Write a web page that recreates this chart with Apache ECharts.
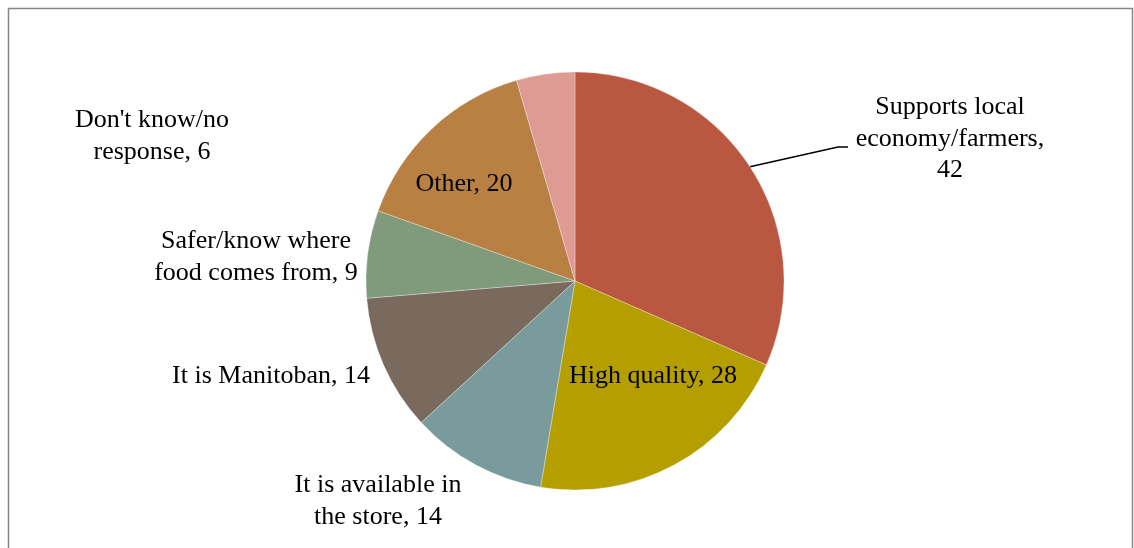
<!DOCTYPE html>
<html>
<head>
<meta charset="utf-8">
<script src="https://cdn.jsdelivr.net/npm/echarts@6/dist/echarts.min.js"></script>
<style>
html,body{margin:0;padding:0;background:#fff;}
#chart{width:1134px;height:548px;}
</style>
</head>
<body>
<div id="chart"></div>
<script>
var categories = ["Supports local economy/farmers","High quality","It is available in the store","It is Manitoban","Safer/know where food comes from","Other","Don't know/no response"];
var values = [42, 28, 14, 14, 9, 20, 6];
var labelTexts = ["Supports local\neconomy/farmers,\n42","High quality, 28","It is available in\nthe store, 14","It is Manitoban, 14","Safer/know where\nfood comes from, 9","Other, 20","Don't know/no\nresponse, 6"];
var colors = ["#B95740","#B59F00","#7A9B9B","#7A6A5E","#7F9B7C","#B98043","#DE9B93"];
var labelPos = [[950,139],[653,376],[378,501],[271,376],[256,257],[464,184],[152,136]];

var chart = echarts.init(document.getElementById('chart'));
var data = categories.map(function(c,i){
  return {name:c, value:values[i], itemStyle:{color:colors[i]},
    label:{formatter:labelTexts[i]},
    labelLine:{show: i===0}};
});
chart.setOption({
  animation:false,
  graphic:[{type:'rect', shape:{x:8.5,y:8.5,width:1124,height:600}, style:{fill:'none',stroke:'#868686',lineWidth:1.5}, silent:true}],
  series:[{
    type:'pie',
    center:[575,281],
    radius:209,
    startAngle:90,
    clockwise:true,
    avoidLabelOverlap:false,
    itemStyle:{borderColor:'rgba(255,255,255,0.5)',borderWidth:0.6},
    label:{show:true,position:'outside',fontFamily:'Liberation Serif',fontSize:26,lineHeight:31.5,color:'#000',align:'center'},
    labelLine:{show:true,length:20,length2:10,lineStyle:{color:'#000',width:1.5}},
    emphasis:{disabled:true},
    data:data,
    labelLayout:function(p){
      var i = p.dataIndex;
      var res = {x:labelPos[i][0], y:labelPos[i][1], align:'center', verticalAlign:'middle', hideOverlap:false};
      if(i===0 && p.labelLinePoints){
        var s = p.labelLinePoints[0];
        res.labelLinePoints = [s,[838,147],[848,147]];
      }
      return res;
    }
  }]
});
</script>
</body>
</html>
